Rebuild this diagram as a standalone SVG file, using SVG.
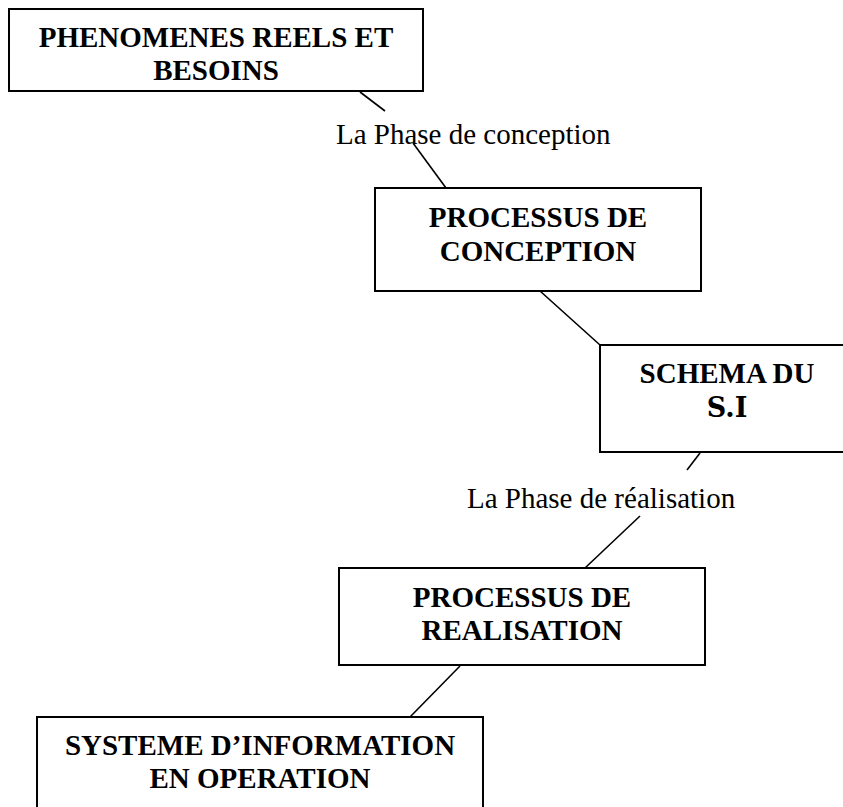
<svg xmlns="http://www.w3.org/2000/svg" width="843" height="807" viewBox="0 0 843 807">
<style>
.box{fill:#fff;stroke:#000;stroke-width:2}
.t{font-family:"Liberation Serif","Times New Roman",serif;font-weight:bold;font-size:29px;text-anchor:middle;fill:#000}
.lbl{font-family:"Liberation Serif","Times New Roman",serif;font-size:29px;fill:#000}
.c{stroke:#000;stroke-width:1.6;fill:none}
</style>
<rect width="843" height="807" fill="#fff"/>
<g id="connectors">
<line class="c" x1="360" y1="92" x2="385" y2="111"/>
<line class="c" x1="413" y1="143" x2="446" y2="188"/>
<line class="c" x1="530" y1="282" x2="600" y2="345"/>
<line class="c" x1="700" y1="453" x2="687" y2="470"/>
<line class="c" x1="640" y1="516" x2="585" y2="568"/>
<line class="c" x1="460" y1="666" x2="410" y2="717"/>
</g>
<g id="label-conception">
<text class="lbl" x="336" y="144">La Phase de conception</text>
</g>
<g id="label-realisation">
<text class="lbl" x="467" y="508">La Phase de réalisation</text>
</g>
<g id="n1">
<rect class="box" x="9" y="9" width="414" height="82"/>
<text class="t" x="216" y="47">PHENOMENES REELS ET</text>
<text class="t" x="216" y="80">BESOINS</text>
</g>
<g id="n2">
<rect class="box" x="375" y="188" width="326" height="103"/>
<text class="t" x="538" y="227">PROCESSUS DE</text>
<text class="t" x="538" y="261">CONCEPTION</text>
</g>
<g id="n3">
<rect class="box" x="600" y="345" width="260" height="107"/>
<text class="t" x="727" y="383">SCHEMA DU</text>
<text x="727" y="417" style="font-family:'DejaVu Serif',serif;font-weight:bold;font-size:27px;text-anchor:middle">S.I</text>
</g>
<g id="n4">
<rect class="box" x="339" y="568" width="366" height="97"/>
<text class="t" x="522" y="607">PROCESSUS DE</text>
<text class="t" x="522" y="640">REALISATION</text>
</g>
<g id="n5">
<rect class="box" x="37" y="717" width="446" height="110"/>
<text class="t" x="260" y="755">SYSTEME D’INFORMATION</text>
<text class="t" x="260" y="788">EN OPERATION</text>
</g>
</svg>
